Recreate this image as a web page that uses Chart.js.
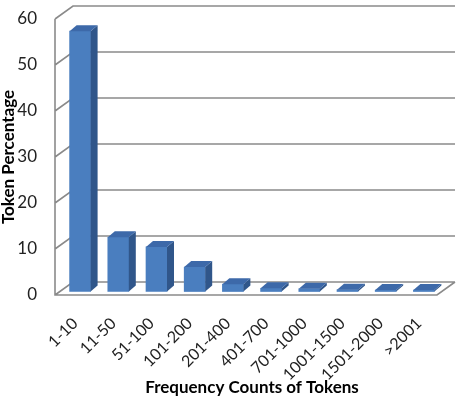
<!DOCTYPE html>
<html>
<head>
<meta charset="utf-8">
<script src="https://cdn.jsdelivr.net/npm/chart.js@4"></script>
<style>
  html, body { margin: 0; padding: 0; background: #fff; }
  #wrap { width: 460px; height: 396px; }
</style>
</head>
<body>
<div id="wrap"><canvas id="chart" width="460" height="396"></canvas></div>
<script>
const categories = ['1-10', '11-50', '51-100', '101-200', '201-400', '401-700', '701-1000', '1001-1500', '1501-2000', '>2001'];
const tokenPercentage = [56.6, 11.8, 9.7, 5.3, 1.6, 0.7, 0.6, 0.4, 0.3, 0.3];
const yTicks = [0, 10, 20, 30, 40, 50, 60];

//depth of the floor / back wall and of each bar
const wallDepth = { x: 18, y: -13 };
const barDepth = { x: 7, y: -6 };
//bars stand a bit behind the front edge of the floor
const frontShift = -6;

const threeD = {
    id: 'threeD',
    beforeDatasetsDraw(chart) {
        const ctx = chart.ctx;
        const a = chart.chartArea;
        const y = chart.scales.y;
        const left = a.left + frontShift;
        const right = a.right + frontShift;
        ctx.save();
        ctx.strokeStyle = '#8a8a8a';
        ctx.lineWidth = 1.6;
        ctx.beginPath();
        //back wall lines and the little diagonals on the left wall
        yTicks.forEach(v => {
            const py = y.getPixelForValue(v);
            ctx.moveTo(left, py);
            ctx.lineTo(left + wallDepth.x, py + wallDepth.y);
            ctx.lineTo(right + wallDepth.x, py + wallDepth.y);
        });
        //front left edge
        ctx.moveTo(left, a.top);
        ctx.lineTo(left, a.bottom);
        //floor front edge and right edge
        ctx.lineTo(right, a.bottom);
        ctx.lineTo(right + wallDepth.x, a.bottom + wallDepth.y);
        ctx.stroke();
        ctx.restore();
    },
    afterDatasetsDraw(chart) {
        const ctx = chart.ctx;
        const meta = chart.getDatasetMeta(0);
        ctx.save();
        meta.data.forEach(bar => {
            const p = bar.getProps(['x', 'y', 'base', 'width'], true);
            const l = p.x - p.width / 2;
            const r = p.x + p.width / 2;
            //side
            ctx.fillStyle = '#30568a';
            ctx.beginPath();
            ctx.moveTo(r, p.y);
            ctx.lineTo(r + barDepth.x, p.y + barDepth.y);
            ctx.lineTo(r + barDepth.x, p.base + barDepth.y);
            ctx.lineTo(r, p.base);
            ctx.closePath();
            ctx.fill();
            //top
            ctx.fillStyle = '#3d69a9';
            ctx.beginPath();
            ctx.moveTo(l, p.y);
            ctx.lineTo(r, p.y);
            ctx.lineTo(r + barDepth.x, p.y + barDepth.y);
            ctx.lineTo(l + barDepth.x, p.y + barDepth.y);
            ctx.closePath();
            ctx.fill();
        });
        ctx.restore();
    }
};

new Chart(document.getElementById('chart'), {
    type: 'bar',
    data: {
        labels: categories,
        datasets: [{
            label: 'Token Percentage',
            data: tokenPercentage,
            yAxisID: 'yBar',
            backgroundColor: '#4a7ebf',
            borderWidth: 0,
            barThickness: 21
        }]
    },
    options: {
        responsive: false,
        animation: false,
        plugins: { legend: { display: false }, tooltip: { enabled: false } },
        layout: { padding: { top: 19, right: 17, left: 0, bottom: 0 } },
        scales: {
            x: {
                type: 'category',
                grid: { display: false, drawTicks: false },
                border: { display: false },
                ticks: {
                    minRotation: 45, maxRotation: 45, padding: 19, labelOffset: -5,
                    color: '#222',
                    font: { family: 'Lato', size: 16 }
                },
                title: {
                    display: true,
                    text: 'Frequency Counts of Tokens',
                    color: '#000',
                    padding: { top: 0, bottom: -2 },
                    font: { family: 'Lato', size: 17, weight: 'bold' }
                },
                afterFit(scale) {
                    scale.height = 101;
                    scale.paddingLeft = 0;
                    scale.paddingRight = 0;
                }
            },
            y: {
                type: 'linear',
                position: 'left',
                min: 0,
                max: 60,
                grid: { display: false, drawTicks: false },
                border: { display: false },
                ticks: {
                    stepSize: 10, padding: 24,
                    color: '#222',
                    font: { family: 'Lato', size: 17 }
                },
                title: {
                    display: true,
                    text: 'Token Percentage',
                    color: '#000',
                    padding: { top: -2, bottom: 0 },
                    font: { family: 'Lato', size: 17, weight: 'bold' }
                },
                afterFit(scale) {
                    scale.width = 61;
                    scale.paddingTop = 0;
                    scale.paddingBottom = 0;
                }
            },
            yBar: {
                type: 'linear',
                display: false,
                min: -0.76,
                max: 59.24
            }
        }
    },
    plugins: [threeD]
});
</script>
</body>
</html>
